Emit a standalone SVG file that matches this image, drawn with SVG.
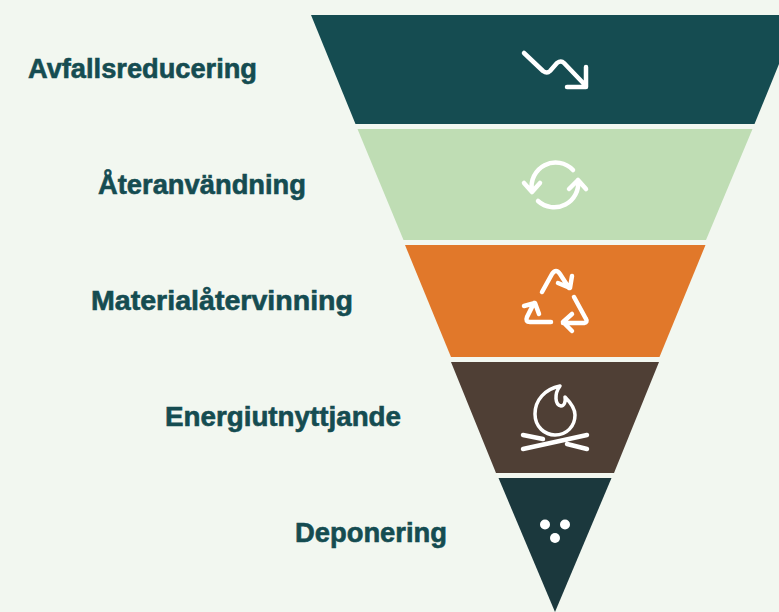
<svg xmlns="http://www.w3.org/2000/svg" width="779" height="612" viewBox="0 0 779 612">
<style>
.l{font-family:"Liberation Sans",Arial,sans-serif;font-weight:700;font-size:27px;fill:#154c51;stroke:#154c51;stroke-width:.6px}
.i{fill:none;stroke:#fff;stroke-width:4.5px;stroke-linecap:round;stroke-linejoin:round}
</style>
<rect width="779" height="612" fill="#f2f7f0"/>
<g id="avfallsreducering">
<polygon points="311,15 799,15 754.5,124 355.5,124" fill="#154c51"/>
<path class="i" d="M524,53 L543,71 Q547,74 550,71 L557,63 Q561,60 564,63 L586,86 M586,67 V87 H567"/>
<text class="l" x="28" y="78" textLength="229" lengthAdjust="spacingAndGlyphs">Avfallsreducering</text>
</g>
<g id="ateranvandning">
<polygon points="357.5,129 752.5,129 706,240 403.500,240" fill="#bfddb4"/>
<path class="i" d="M573,170 A24,24 0 0 0 532,191 M524,183 L532,192 L540,183"/>
<path class="i" d="M538,201 A24,24 0 0 0 578,180 M569,189 L578,180 L586,189"/>
<text class="l" x="98" y="194" textLength="208" lengthAdjust="spacingAndGlyphs">Återanvändning</text>
</g>
<g id="materialatervinning">
<polygon points="405,245 705.500,245 659.500,357 451,357" fill="#e1782a"/>
<path class="i" d="M542,292 L552,274 Q556,268 560,274 L569,288 M558,283 L570,288 L572,276"/>
<path class="i" d="M574,297 L586,319 Q588,322 584,323 L563,323 M572,314 L563,322 L572,331"/>
<path class="i" d="M551,322 H530 Q525,322 527,317 L534,303 M524,306 L535,303 L539,314"/>
<text class="l" x="91" y="310" textLength="262" lengthAdjust="spacingAndGlyphs">Materialåtervinning</text>
</g>
<g id="energiutnyttjande">
<polygon points="451,362 659,362 614,473 496,473" fill="#4f3f35"/>
<path class="i" style="stroke-width:3.500px" d="M560,386 C545,389 535,400 535,414 C535,427 545,435 555,435 C567,435 575,426 575,415 C575,408 570,402 565,397 C566,402 564,406 561,406 C555,405 554,394 560,386 Z"/>
<path class="i" d="M523,449 L587,435 M523,435 L543,439 M567,444 L587,449"/>
<text class="l" x="165" y="426" textLength="236" lengthAdjust="spacingAndGlyphs">Energiutnyttjande</text>
</g>
<g id="deponering">
<polygon points="498.500,478 611.500,478 555,612" fill="#1b383d"/>
<circle cx="545" cy="524.500" r="5" fill="#fff"/>
<circle cx="565" cy="524.500" r="5" fill="#fff"/>
<circle cx="555" cy="538" r="5" fill="#fff"/>
<text class="l" x="295" y="542" textLength="152" lengthAdjust="spacingAndGlyphs">Deponering</text>
</g>
<g id="connectors"/>
</svg>
